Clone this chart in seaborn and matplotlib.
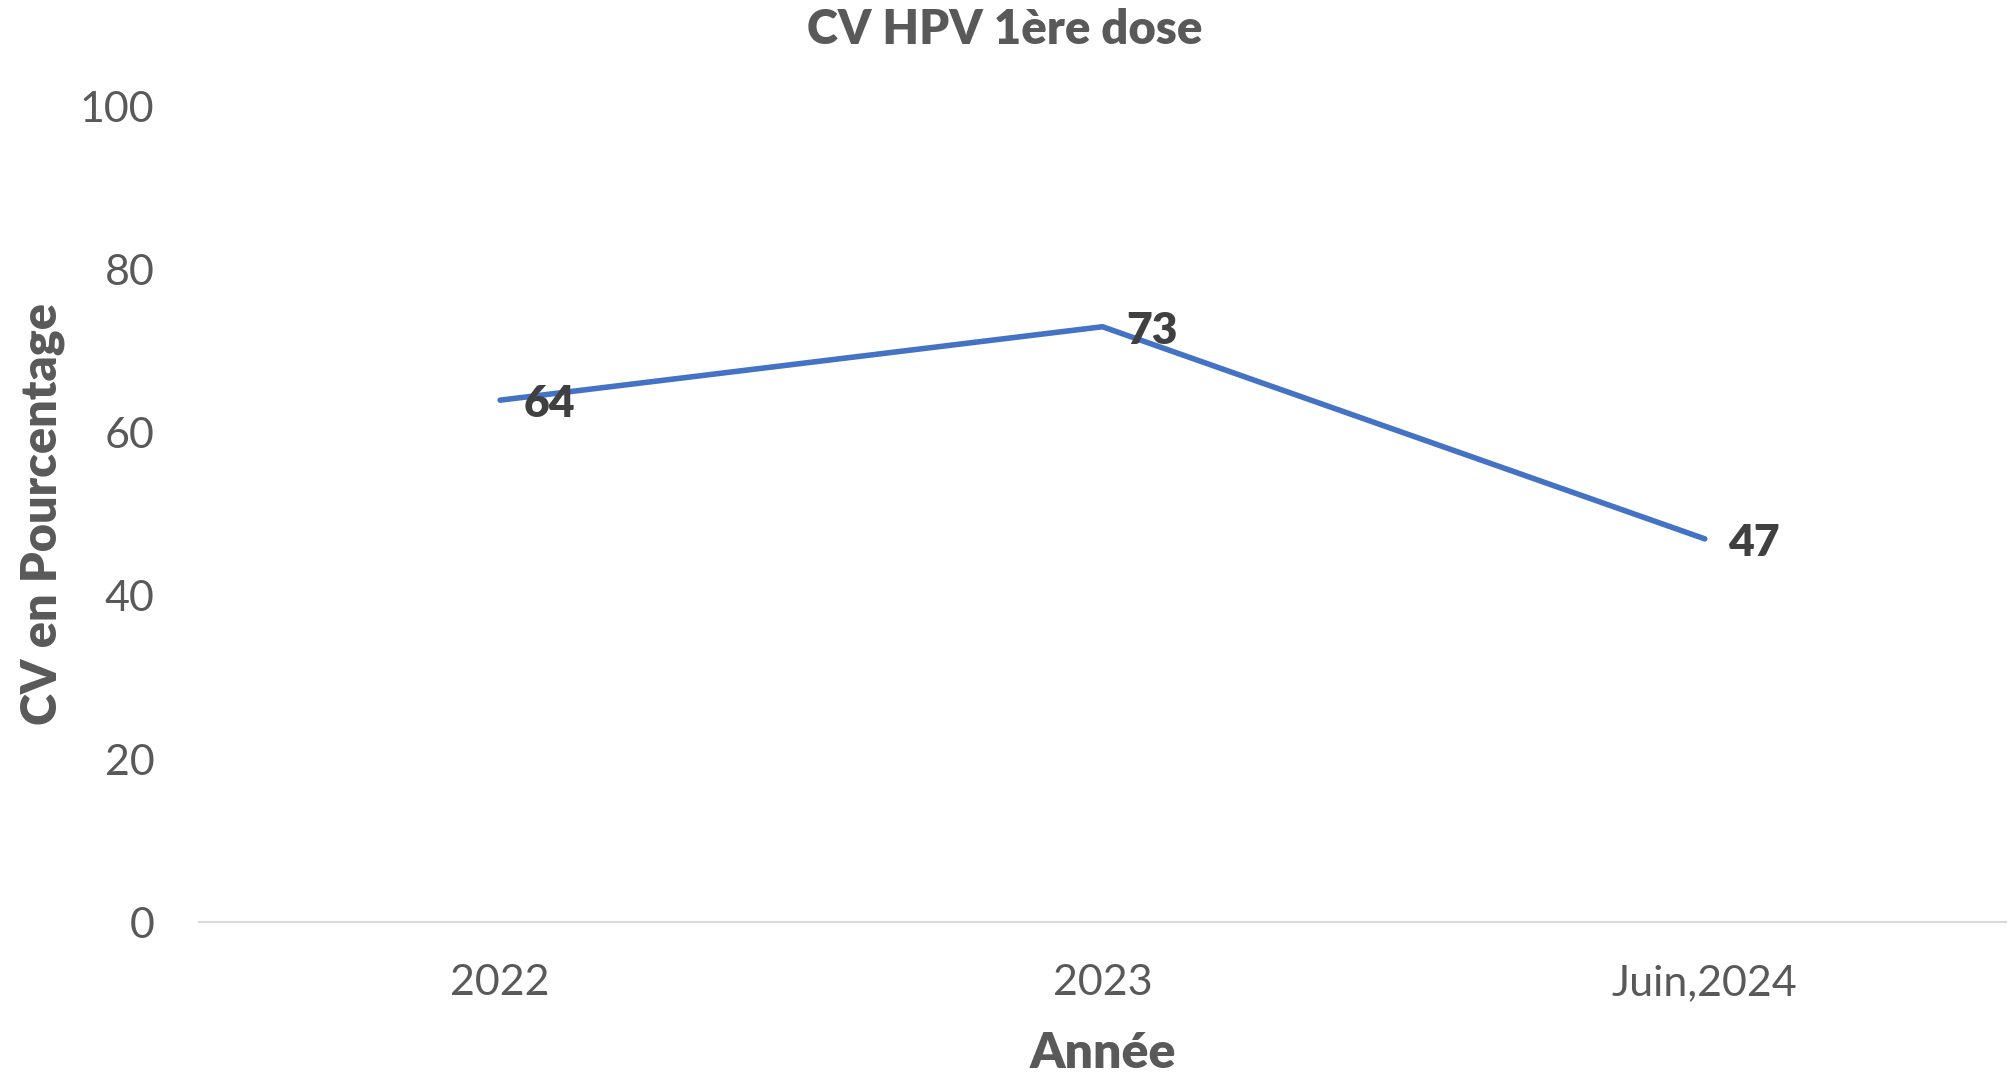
import matplotlib
matplotlib.use("Agg")
import matplotlib.pyplot as plt
import seaborn as sns
import pandas as pd

# values
years = ["2022", "2023", "Juin,2024"]
coverage = [64, 73, 47]
y_ticks = [0, 20, 40, 60, 80, 100]

df = pd.DataFrame({"annee": years, "cv": coverage})

sns.set_theme(style="white")
plt.rcParams["font.family"] = ["Lato", "DejaVu Sans"]

grey = "#595959"
fig = plt.figure(figsize=(20.1, 10.75), dpi=100)
ax = fig.add_axes([0.099, 0.142, 0.899, 0.759])

sns.lineplot(data=df, x="annee", y="cv", ax=ax, color="#4472C4",
             linewidth=4.0, sort=False)

for i, v in enumerate(df["cv"]):
    ax.annotate(str(v), (i, v), xytext=(17, -3), textcoords="offset points",
                ha="left", va="center", fontsize=32, fontweight="heavy",
                color="#404040")

ax.set_xlim(-0.5, 2.5)
ax.set_ylim(0, 100)
ax.set_yticks(y_ticks)
ax.tick_params(axis="both", length=0, labelsize=31, labelcolor=grey)
ax.tick_params(axis="x", pad=30)
ax.tick_params(axis="y", pad=32)

for side in ["top", "right", "left"]:
    ax.spines[side].set_visible(False)
ax.spines["bottom"].set_color("#d9d9d9")
ax.spines["bottom"].set_linewidth(1.5)

ax.set_xlabel("Année", fontsize=36, fontweight="heavy", color=grey, labelpad=21)
ax.set_ylabel("CV en Pourcentage", fontsize=35, fontweight="heavy", color=grey,
              labelpad=11)
fig.text(0.5, 0.972, "CV HPV 1ère dose", ha="center", va="center",
         fontsize=34, fontweight="heavy", color=grey)

fig.savefig("out.png", dpi=100)
